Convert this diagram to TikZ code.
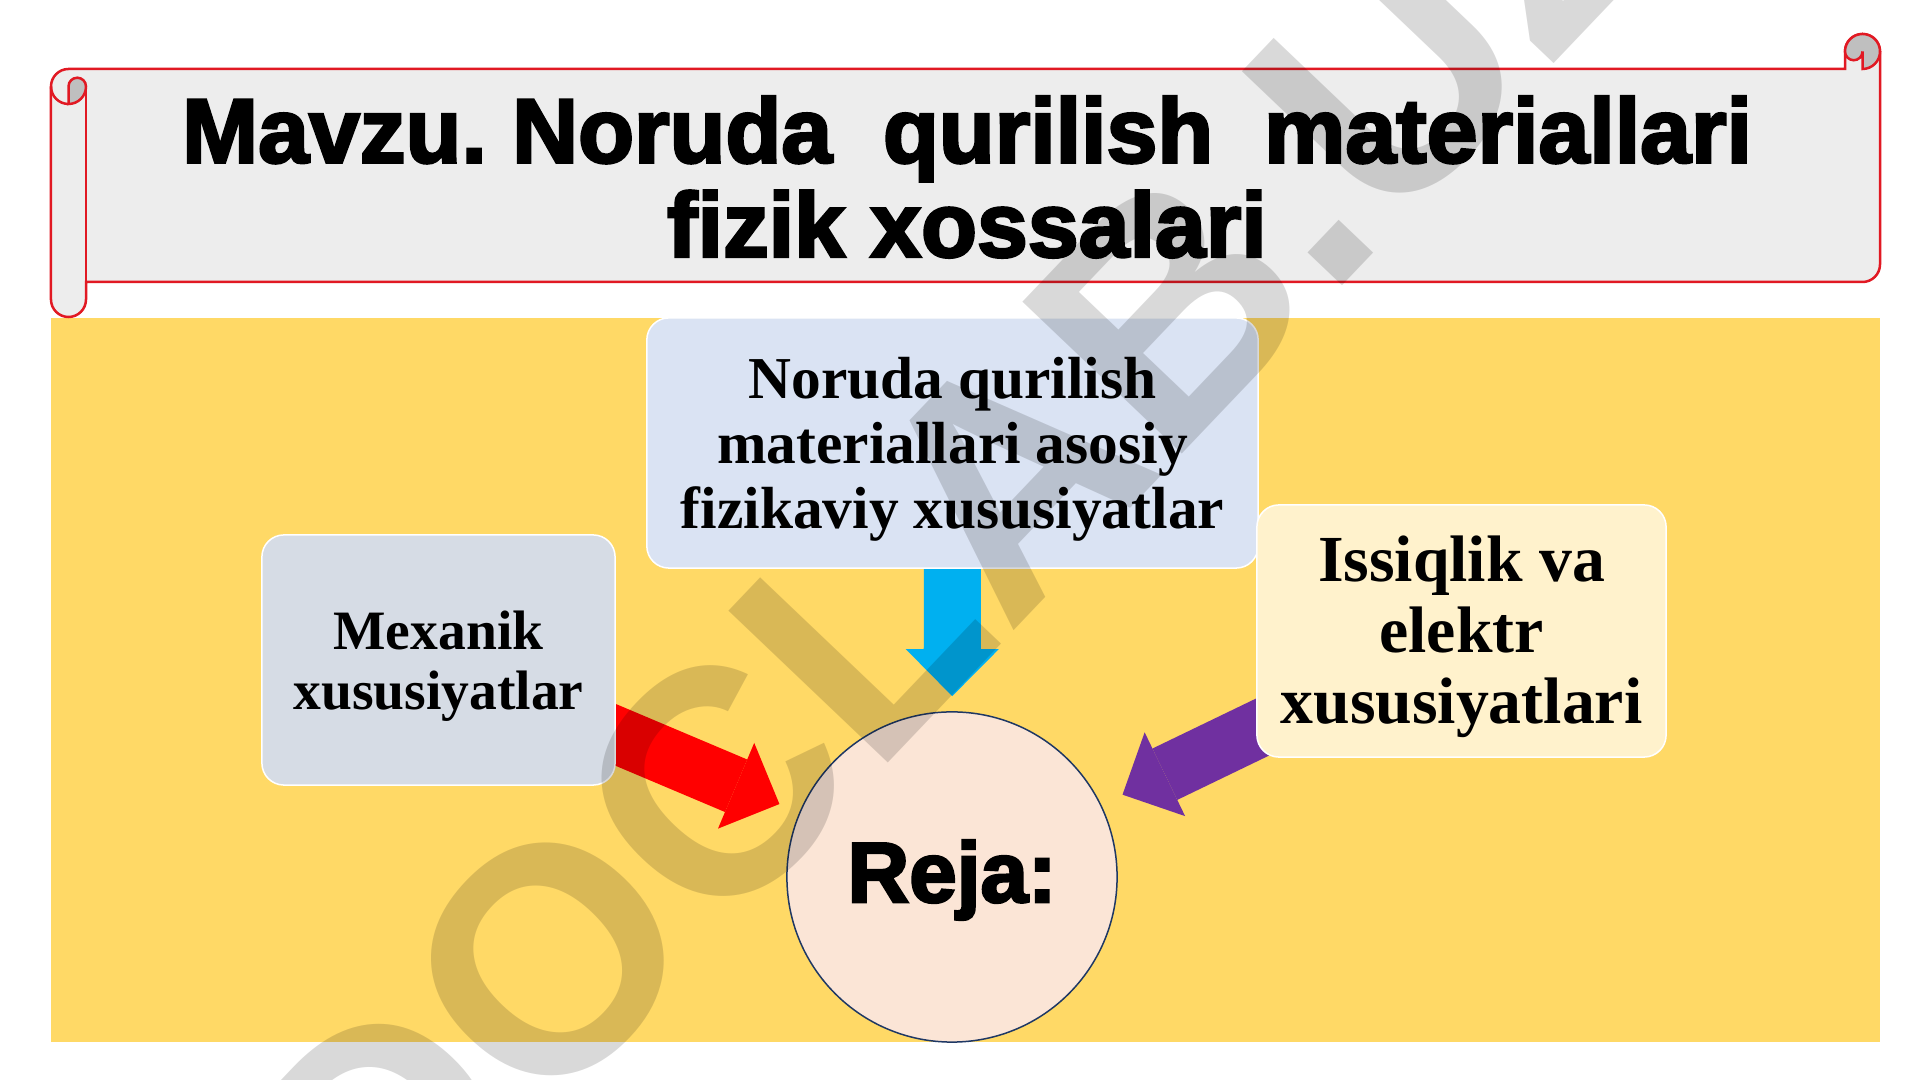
\documentclass[tikz,border=0pt]{standalone}
\usepackage{fontspec}
\setmainfont{Liberation Serif}
\newfontfamily\headfont{Liberation Sans Bold}[FakeBold=3]
\newfontfamily\markfont{Liberation Sans}
\usepackage{xcolor}
\usepackage{tikz}
\usetikzlibrary{arrows.meta, positioning, calc, backgrounds}
\pgfdeclarelayer{links}
\pgfsetlayers{background,links,main}
\definecolor{panelyellow}{HTML}{FFD966}
\definecolor{scrollgray}{HTML}{EDEDED}
\definecolor{scrollred}{RGB}{225,25,35}
\definecolor{rollshade}{HTML}{BFBFBF}
\definecolor{propblue}{HTML}{DAE3F3}
\definecolor{mechgray}{HTML}{D6DCE5}
\definecolor{heatcream}{HTML}{FFF2CC}
\definecolor{planpeach}{HTML}{FBE5D6}
\definecolor{planline}{HTML}{1F3864}
\definecolor{arrowblue}{HTML}{00B0F0}
\definecolor{arrowred}{HTML}{FF0000}
\definecolor{arrowpurple}{HTML}{7030A0}
\tikzstyle{blockarrow} = [line width=0.57cm, -{Triangle[width=0.93cm, length=0.47cm, line width=0pt]}]
\frenchspacing

\begin{document}
\begin{tikzpicture}[x=0.01cm, y=-0.01cm,
scrollline/.style={draw=scrollred, line width=0.025cm},
box/.style={draw=white, line width=0.015cm, rounded corners=0.22cm, inner sep=0pt, minimum height=2.5cm},
boxtext/.style={align=center, inner sep=0pt},
wmark/.style={font=\markfont\bfseries\fontsize{91}{91}\selectfont, text=black, text opacity=0.15, inner sep=0pt}
]
    \useasboundingbox (0, 0) rectangle (1920, 1080);

    % Page and yellow panel
    \begin{pgfonlayer}{background}
    \fill [white] (0, 0) rectangle (1920, 1080);
    \fill [panelyellow] (51, 318) rectangle (1880, 1042);
    \end{pgfonlayer}

    % Title scroll
    \draw [scrollline, fill=scrollgray] (51, 86.5) arc [start angle=180, end angle=90, radius=0.175cm]
        -- (1845, 69) -- (1845, 51.5) arc [start angle=180, end angle=0, radius=0.175cm]
        -- (1880, 264.5) arc [start angle=0, end angle=-90, radius=0.175cm]
        -- (86, 282) -- (86, 299.5) arc [start angle=0, end angle=-180, radius=0.175cm] -- cycle;
    \draw [scrollline, fill=rollshade] (68.5, 104) arc [start angle=-90, end angle=0, radius=0.175cm]
        arc [start angle=0, end angle=180, radius=0.0875cm] -- cycle;
    \draw [scrollline, fill=rollshade] (1862.5, 69) arc [start angle=-90, end angle=180, radius=0.175cm]
        arc [start angle=180, end angle=360, radius=0.0875cm] -- cycle;
    \draw [scrollline] (86, 86.5) -- (86, 282);
    \draw [scrollline] (68.5, 104) arc [start angle=-90, end angle=-180, radius=0.175cm];

    \node (title) at (967, 177) [align=center, inner sep=0pt,
        font=\headfont\fontsize{26}{26.8}\selectfont]
        {Mavzu. Noruda\ \ qurilish\ \ materiallari\\fizik xossalari};

    % Boxes
    \node (props) at (952.5, 443) [box, fill=propblue, minimum width=6.11cm] {};
    \node (propstext) at (952.5, 449) [boxtext, font=\bfseries\fontsize{16.9}{18.5}\selectfont]
        {Noruda qurilish\\materiallari asosiy\\fizikaviy xususiyatlar};
    \node (mech) at (438.5, 660) [box, fill=mechgray, minimum width=3.53cm] {};
    \node (mechtext) at (438.5, 666) [boxtext, font=\bfseries\fontsize{15.8}{17.1}\selectfont]
        {Mexanik\\xususiyatlar};
    \node (heat) at (1461.5, 631) [box, fill=heatcream, minimum width=4.09cm, minimum height=2.52cm] {};
    \node (heattext) at (1461.5, 637) [boxtext, font=\bfseries\fontsize{18.7}{20.2}\selectfont]
        {Issiqlik va\\elektr\\xususiyatlari};
    \node (plan) at (952, 877) [circle, draw=planline, fill=planpeach, line width=0.015cm,
        minimum size=3.3cm, inner sep=0pt] {};
    \node (plantext) at (952, 880) [inner sep=0pt, font=\headfont\fontsize{24.3}{24.3}\selectfont] {Reja:};

    % Arrows
    \begin{pgfonlayer}{links}
    \draw [blockarrow, arrowblue, shorten >=0.15cm] (props.center) -- (plan);
    \draw [blockarrow, arrowred, shorten >=0.215cm] (mech.center) -- (plan);
    \draw [blockarrow, arrowpurple, shorten >=0.235cm] (heat.center) -- (plan);
    \end{pgfonlayer}

    % Watermark
    \node (stamp) at (383, 1293.5) [wmark, rotate=46.4, anchor=base west] {DOCLAB.UZ};

\end{tikzpicture}
\end{document}
